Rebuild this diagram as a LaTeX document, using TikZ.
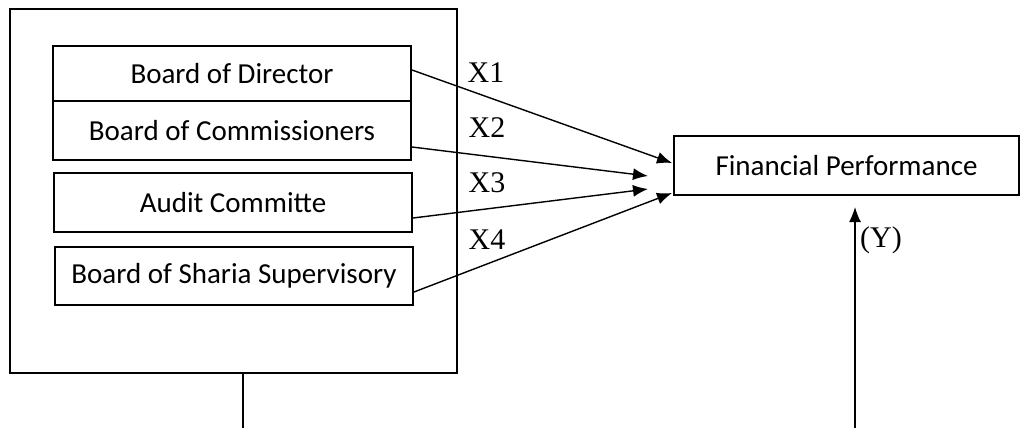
\documentclass[tikz,border=0pt]{standalone}
\usepackage{fontspec}
\setmainfont{Carlito}
\newfontfamily\labelfont{Liberation Serif}
\usetikzlibrary{arrows.meta}
\begin{document}
\begin{tikzpicture}[x=1pt,y=-1pt,
  every node/.style={inner sep=0pt, outer sep=0pt},
  framebox/.style={draw, line width=1.5pt, minimum width=447pt, minimum height=364pt},
  itembox/.style={draw, line width=1.5pt, minimum width=358pt, font=\fontsize{29}{34}\selectfont},
  vlabel/.style={font=\labelfont\fontsize{30}{34}\selectfont},
  link/.style={line width=1.4pt, -{Latex[length=15pt,width=12pt]}},
  plain/.style={line width=1.4pt}]
\useasboundingbox (0,0) rectangle (1020,428);

% group of governance variables
\node[framebox] (outer) at (233.5,191) {};
\node[itembox, minimum height=55pt] (bd) at (232,73.5) {Board of Director};
\node[itembox, minimum height=59pt] (bc) at (232,130.5) {Board of Commissioners};
\node[itembox, minimum height=59pt] (ac) at (233,202.5) {Audit Committe};
\node[itembox, minimum height=58pt] (bs) at (234,276) {Board of Sharia Supervisory};

% dependent variable
\node[itembox, minimum width=345pt, minimum height=59pt] (fp) at (846.5,165.5) {Financial Performance};

% variable labels
\node[vlabel] (x1) at (486,73) {X1};
\node[vlabel] (x2) at (487,128) {X2};
\node[vlabel] (x3) at (487,183) {X3};
\node[vlabel] (x4) at (487,240) {X4};
\node[vlabel] (ylab) at (881,240) {(Y)};

% effects on financial performance
\draw[link] ([xshift=1pt,yshift=3.5pt]bd.east) -- ([xshift=-2pt,yshift=2.5pt]fp.west);
\draw[link] ([xshift=1pt,yshift=-16.5pt]bc.east) -- ([xshift=-26pt,yshift=-10.5pt]fp.west);
\draw[link] ([xshift=1pt,yshift=-15.5pt]ac.east) -- ([xshift=-26pt,yshift=-23.5pt]fp.west);
\draw[link] ([xshift=1pt,yshift=-16pt]bs.east) -- ([xshift=-2pt,yshift=-27.5pt]fp.west);

% lines continuing below the picture
\coordinate (ybot) at (855,428);
\draw[link, shorten >=12pt] (ybot) -- (ybot |- fp.south);
\draw[plain] ([xshift=9.5pt]outer.south) -- ++(0,56);
\end{tikzpicture}
\end{document}
